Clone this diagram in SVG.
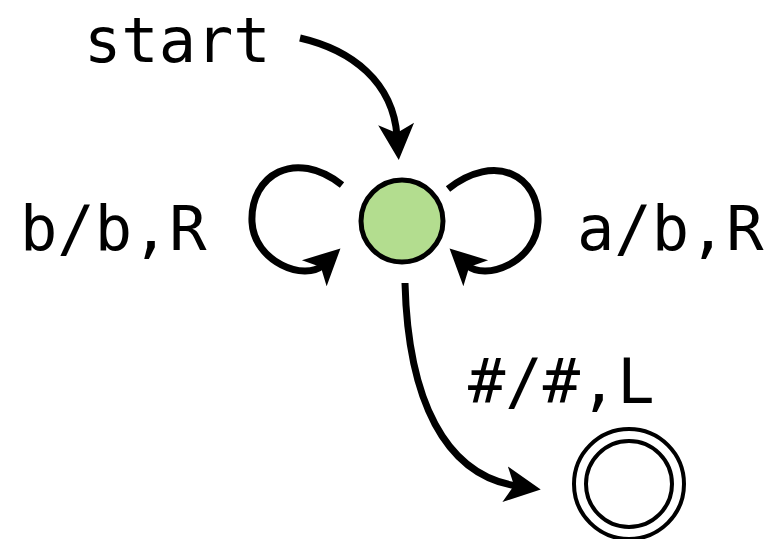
<svg xmlns="http://www.w3.org/2000/svg" width="782" height="539" viewBox="0 0 782 539">
  <style>
    .lbl { font-family: "DejaVu Sans Mono", "Liberation Mono", monospace; font-size: 62px; fill: #000; }
    .edge { fill: none; stroke: #000; stroke-width: 7; marker-end: url(#arrow); }
    .state { stroke: #000; stroke-width: 5; }
    .ring { fill: none; stroke: #000; stroke-width: 4; }
  </style>
  <defs>
    <marker id="arrow" markerUnits="userSpaceOnUse" markerWidth="40" markerHeight="40" viewBox="0 -20 40 40" refX="12" refY="0" orient="auto" overflow="visible">
      <path d="M0,-18 L36,0 L0,18 L9,0 Z" fill="#000"/>
    </marker>
  </defs>

  <g id="connectors">
    <path class="edge" d="M300,38 C352,50 393,82 397,136"/>
    <path class="edge" d="M342,185 C295,148 250,175 252,222 C254,262 305,282 323,265"/>
    <path class="edge" d="M448,189 C495,152 540,175 538,222 C536,262 485,282 467,265"/>
    <path class="edge" d="M405,283 C408,400 445,475 517,486"/>
  </g>

  <g id="state-q0">
    <circle class="state" cx="402" cy="221" r="41" fill="#b3dd8f"/>
  </g>

  <g id="state-accept">
    <circle class="ring" cx="629" cy="484" r="55" fill="#fff"/>
    <circle class="ring" cx="629" cy="484" r="43"/>
  </g>

  <g id="labels">
    <text class="lbl" x="84" y="62">start</text>
    <text class="lbl" x="20" y="250">b/b,R</text>
    <text class="lbl" x="577" y="250">a/b,R</text>
    <text class="lbl" x="468" y="403">#/#,L</text>
  </g>
</svg>
